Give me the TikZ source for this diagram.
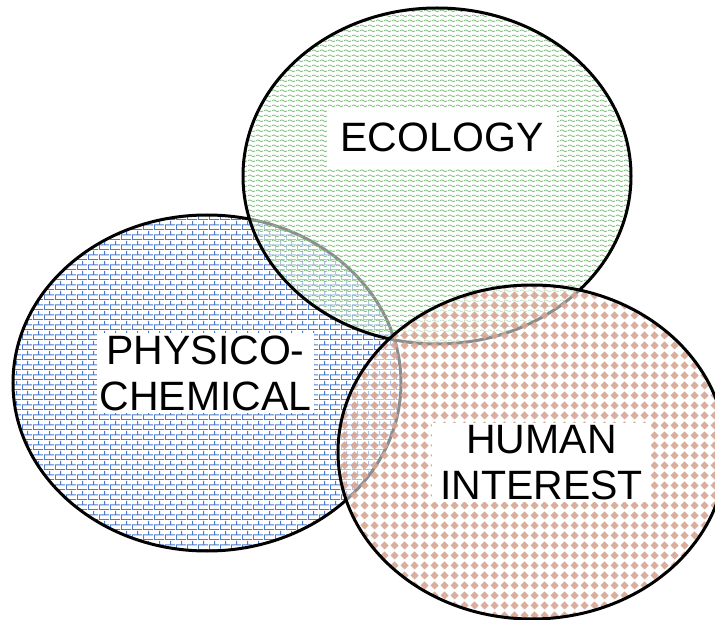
\documentclass[tikz,border=0pt]{standalone}
\usepackage{fontspec}
\setmainfont{Liberation Sans}
\usetikzlibrary{patterns,shapes.geometric}

\pgfdeclarepatternformonly{myBricks}{\pgfpointorigin}{\pgfpoint{11pt}{10pt}}{\pgfpoint{11pt}{10pt}}{%
  \pgfsetlinewidth{1.1pt}%
  \pgfpathmoveto{\pgfpoint{0pt}{0.5pt}}\pgfpathlineto{\pgfpoint{11pt}{0.5pt}}%
  \pgfpathmoveto{\pgfpoint{0pt}{5.5pt}}\pgfpathlineto{\pgfpoint{11pt}{5.5pt}}%
  \pgfpathmoveto{\pgfpoint{0.5pt}{0.5pt}}\pgfpathlineto{\pgfpoint{0.5pt}{5.5pt}}%
  \pgfpathmoveto{\pgfpoint{6pt}{5.5pt}}\pgfpathlineto{\pgfpoint{6pt}{10pt}}%
  \pgfusepath{stroke}}

\pgfdeclarepatternformonly{myWaves}{\pgfpointorigin}{\pgfpoint{8pt}{4.7pt}}{\pgfpoint{8pt}{4.7pt}}{%
  \pgfsetlinewidth{0.8pt}%
  \pgfpathmoveto{\pgfpoint{0pt}{2.35pt}}%
  \pgfpathcurveto{\pgfpoint{1pt}{3.6pt}}{\pgfpoint{3pt}{3.6pt}}{\pgfpoint{4pt}{2.35pt}}%
  \pgfpathcurveto{\pgfpoint{5pt}{1.1pt}}{\pgfpoint{7pt}{1.1pt}}{\pgfpoint{8pt}{2.35pt}}%
  \pgfusepath{stroke}}

\pgfdeclarepatternformonly{myDiamonds}{\pgfpointorigin}{\pgfpoint{10pt}{10pt}}{\pgfpoint{10pt}{10pt}}{%
  \pgfpathmoveto{\pgfpoint{5pt}{0.6pt}}%
  \pgfpathlineto{\pgfpoint{9.4pt}{5pt}}%
  \pgfpathlineto{\pgfpoint{5pt}{9.4pt}}%
  \pgfpathlineto{\pgfpoint{0.6pt}{5pt}}%
  \pgfpathclose
  \pgfusepath{fill}}

\definecolor{brickblue}{RGB}{72,122,205}
\definecolor{wavegreen}{RGB}{130,190,130}
\definecolor{diasalmon}{RGB}{215,165,145}

\tikzset{
  veil/.style={fill=white, fill opacity=0.55},
  rim/.style={draw=black, line width=3pt},
  label/.style={fill=white, inner sep=0pt, align=center,
    font=\fontsize{41}{46}\selectfont},
}

\begin{document}
\begin{tikzpicture}[x=1pt,y=-1pt]
\useasboundingbox (0,0) rectangle (715,620);
\clip (0,0) rectangle (715,620);

% physico-chemical
\fill[pattern=myBricks, pattern color=brickblue] (207,383) ellipse [x radius=194pt, y radius=168pt];
\draw[rim] (207,383) ellipse [x radius=194pt, y radius=168pt];

% ecology
\fill[veil] (437,176) ellipse [x radius=194pt, y radius=168pt];
\fill[pattern=myWaves, pattern color=wavegreen] (437,176) ellipse [x radius=194pt, y radius=168pt];
\draw[rim] (437,176) ellipse [x radius=194pt, y radius=168pt];

% human interest
\fill[veil] (532,452) ellipse [x radius=194pt, y radius=167pt];
\fill[pattern=myDiamonds, pattern color=diasalmon, fill opacity=0.9] (532,452) ellipse [x radius=194pt, y radius=167pt];
\draw[rim] (532,452) ellipse [x radius=194pt, y radius=167pt];

\node[label, minimum width=230pt, minimum height=59pt] (eco) at (442,137.5) {ECOLOGY};
\node[label, minimum width=217pt, minimum height=80pt] (phy) at (205.5,373) {PHYSICO-\\CHEMICAL};
\node[label, minimum width=219pt, minimum height=79pt] (hum) at (541.5,462.5) {HUMAN\\INTEREST};
\end{tikzpicture}
\end{document}
